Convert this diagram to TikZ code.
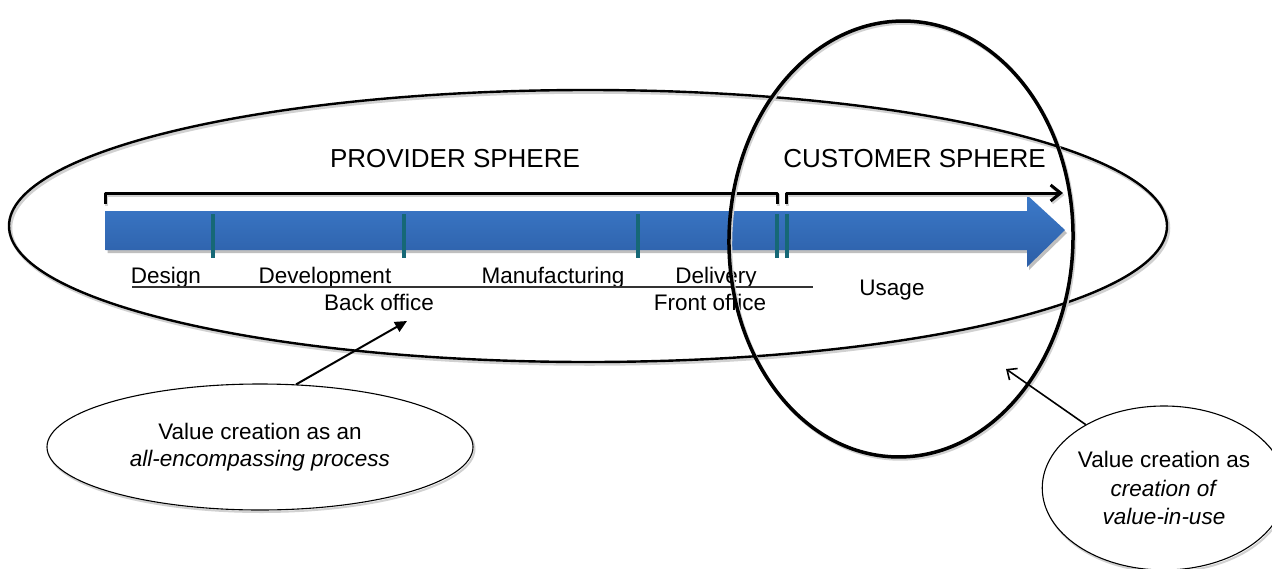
\documentclass[tikz,border=0pt]{standalone}
\usepackage{fontspec}
\setmainfont{Liberation Sans}
\usetikzlibrary{arrows.meta,shapes.geometric}
\definecolor{flowtop}{RGB}{60,122,202}
\definecolor{flowbot}{RGB}{44,94,166}
\definecolor{tealmark}{RGB}{22,104,118}
\tikzset{
  lbl/.style={font=\fontsize{22.5}{27}\selectfont, anchor=base, inner sep=0pt},
  sphere/.style={font=\fontsize{26}{31}\selectfont, anchor=base, inner sep=0pt},
  lineshadow/.style={preaction={draw=black!18, line width=#1,
      transform canvas={shift={(1.5pt,-2pt)}}}},
  lineshadow/.default=3.5pt,
  bracket/.style={line width=3pt, line join=round},
  divider/.style={tealmark, line width=3.2pt},
  callout/.style={ellipse, draw, line width=1.1pt, fill=white, inner sep=0pt,
      align=center, lineshadow=2pt},
}
\begin{document}
\begin{tikzpicture}[x=1pt,y=-1pt]
\useasboundingbox (0,0) rectangle (1272,568);
\fill[white] (0,0) rectangle (1272,568);

% provider sphere
\draw[line width=2.4pt, lineshadow] (588,226) ellipse [x radius=579pt, y radius=136pt];

% value chain arrow
\fill[black!25, transform canvas={shift={(2pt,-3pt)}}]
  (105.5,211) -- (1027,211) -- (1027,195) -- (1065,230) -- (1027,267) -- (1027,250) -- (105.5,250) -- cycle;
\shade[top color=flowtop, bottom color=flowbot]
  (105.5,211) -- (1027,211) -- (1027,195) -- (1065,230) -- (1027,267) -- (1027,250) -- (105.5,250) -- cycle;
\foreach \x in {213,404,638,777,787}
  \draw[divider] (\x,214) -- (\x,258);

% phase brackets
\coordinate (bl0) at (105,204);
\coordinate (bl1) at (777,204);
\coordinate (br0) at (786,204);
\coordinate (br1) at (1063,193);
\draw[bracket, lineshadow=3pt] (bl0) -- (105,193) -- (777,193) -- (bl1);
\draw[bracket, lineshadow=3pt, -{Straight Barb[length=10pt,width=16pt]}] (br0) -- (786,193) -- (br1);

% titles and phase labels
\node[sphere] (prov) at (455,167) {PROVIDER SPHERE};
\node[sphere] (cust) at (914.5,167) {CUSTOMER SPHERE};
\node[lbl] (design) at (166,283.5) {Design};
\node[lbl] (devel) at (325,283.5) {Development};
\node[lbl] (manuf) at (553,283.5) {Manufacturing};
\node[lbl] (deliv) at (716,283.5) {Delivery};
\draw[line width=1.1pt, black!80] (132,287) -- (813,287);
\node[lbl] (back) at (379,310.5) {Back office};
\node[lbl] (front) at (710,310.5) {Front office};
\node[lbl] (usage) at (892,295) {Usage};

% customer sphere
\draw[line width=3.5pt, lineshadow, rotate around={-1.5:(901,239)}] (901,239) ellipse [x radius=172pt, y radius=218pt];

% callouts
\node[callout, minimum width=426pt, minimum height=126pt,
      font=\fontsize{22.5}{27}\selectfont] (callL) at (260,447)
  {Value creation as an\\ \textit{all-encompassing process}};
\node[callout, minimum width=212pt, minimum height=164pt,
      font=\fontsize{22.5}{28.5}\selectfont] (callR) at (1164,488)
  {Value creation as\\ \textit{creation of}\\ \textit{value-in-use}};

\coordinate (backtip) at (407,321);
\coordinate (usetip) at (1006,369);
\draw[line width=2pt, -{Triangle[length=12pt,width=11pt]}] (callL.60) -- (backtip);
\draw[line width=1.6pt, -{Straight Barb[length=8pt,width=14pt]}] (callR.141) -- (usetip);
\end{tikzpicture}
\end{document}
